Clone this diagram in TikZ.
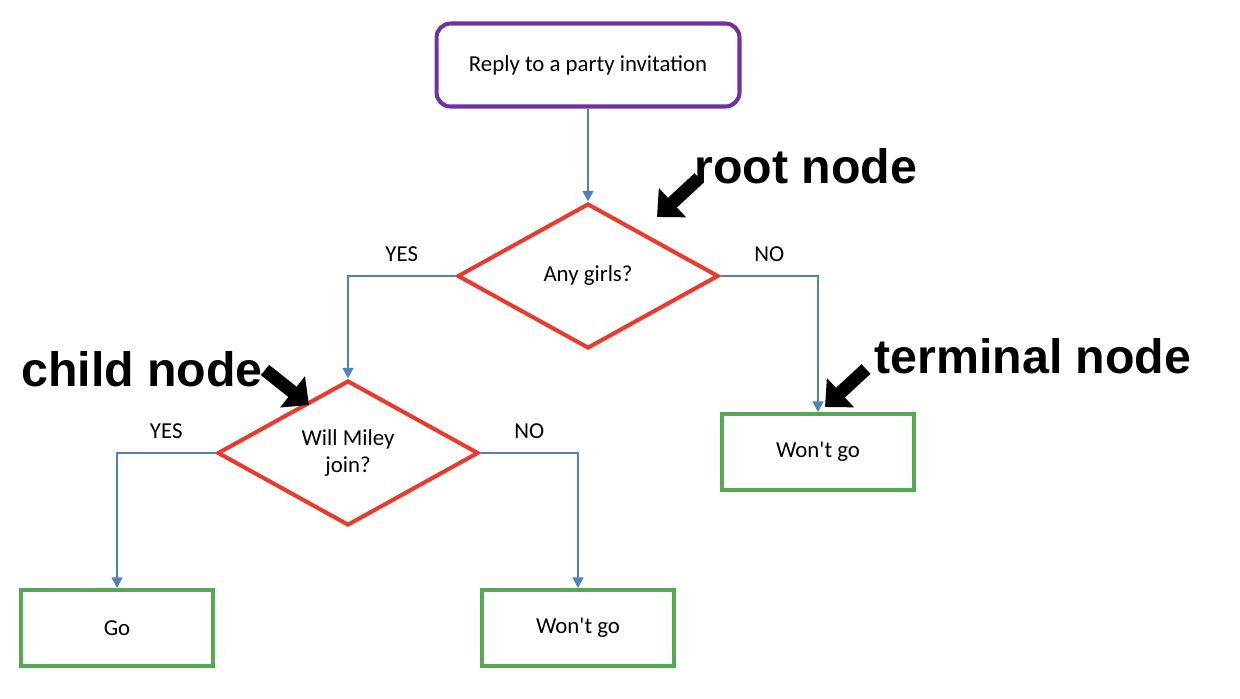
\documentclass[tikz,border=0pt]{standalone}
\usepackage{fontspec}
\setmainfont{Carlito}
\newfontfamily\notefont{Liberation Sans}
\usetikzlibrary{shapes.geometric,arrows.meta}

\definecolor{startpurple}{HTML}{7030A0}
\definecolor{askred}{HTML}{EB3A2C}
\definecolor{endgreen}{HTML}{55A854}
\definecolor{flowblue}{HTML}{4F81BD}

\tikzset{
  startbox/.style={draw=startpurple, line width=2.3pt, rounded corners=0.28cm,
    minimum width=6.06cm, minimum height=1.66cm, font=\fontsize{13}{15}\selectfont},
  askbox/.style={draw=askred, line width=2.3pt, diamond, aspect=1.8,
    minimum width=5.22cm, minimum height=2.9cm, inner sep=0pt, align=center,
    font=\fontsize{13}{15.5}\selectfont},
  endbox/.style={draw=endgreen, line width=2.3pt,
    minimum width=3.84cm, minimum height=1.52cm, font=\fontsize{13}{15}\selectfont},
  flow/.style={draw=flowblue, line width=1.4pt, -{Triangle[length=6pt,width=6pt]}},
  answer/.style={font=\fontsize{13}{15}\selectfont, above=4pt},
  note/.style={font=\notefont\bfseries\fontsize{27.5}{32}\selectfont},
  pointer/.style={line width=7.5pt, -{Triangle[length=12pt,width=22pt]}}
}

\begin{document}
\begin{tikzpicture}[x=0.02cm, y=-0.02cm]

  \useasboundingbox (0,0) rectangle (1240,698);

  \node[startbox] (start) at (588, 65) {Reply to a party invitation};
  \node[askbox] (girls) at (588, 276) {Any girls?};
  \node[askbox] (miley) at (348, 453) {Will Miley\\join?};
  \node[endbox] (nogo) at (818, 452) {Won\textquotesingle t go};
  \node[endbox] (go) at (117, 628) {Go};
  \node[endbox] (nogo2) at (578, 628) {Won\textquotesingle t go};

  \draw[flow] (start) -- (girls);
  \draw[flow] (girls.west) -| node[answer, pos=0.25] {YES} (miley.north);
  \draw[flow] (girls.east) -| node[answer, pos=0.25] {NO} (nogo.north);
  \draw[flow] (miley.west) -| node[answer, pos=0.25] {YES} (go.north);
  \draw[flow] (miley.east) -| node[answer, pos=0.25] {NO} (nogo2.north);

  % annotations
  \node[note] (rootlbl) at (806, 166) {root node};
  \node[note] (childlbl) at (142, 369) {child node};
  \node[note] (termlbl) at (1033, 356) {terminal node};

  \coordinate (roottail) at (699, 178);
  \coordinate (roottip) at (657, 217);
  \coordinate (childtail) at (265, 370);
  \coordinate (childtip) at (309, 405);
  \coordinate (termtail) at (866, 369);
  \coordinate (termtip) at (825, 407);
  \draw[pointer] (roottail) -- (roottip);
  \draw[pointer] (childtail) -- (childtip);
  \draw[pointer] (termtail) -- (termtip);

\end{tikzpicture}
\end{document}
